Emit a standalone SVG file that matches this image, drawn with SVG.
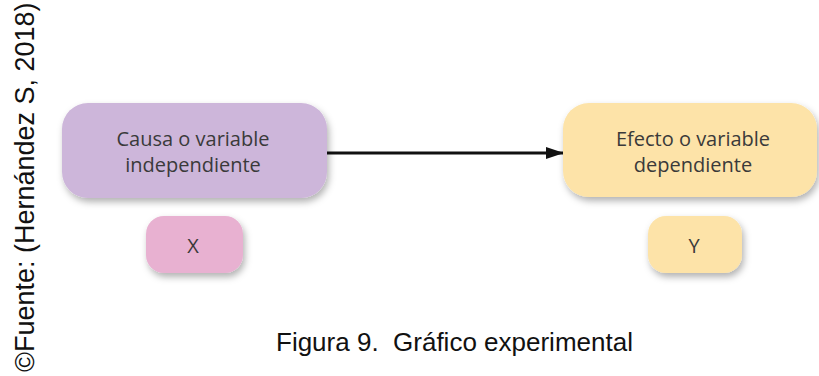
<svg xmlns="http://www.w3.org/2000/svg" width="819" height="376" viewBox="0 0 819 376">
<style>
.lbl{font-family:"Open Sans","DejaVu Sans",sans-serif;font-size:20px;fill:#3a3a3a;text-anchor:middle}
.cap{font-family:"Liberation Sans",Arial,sans-serif;font-size:26px;fill:#111}
</style>
<defs>
<filter id="sh" x="-20%" y="-20%" width="150%" height="160%">
<feDropShadow dx="2" dy="4" stdDeviation="3.5" flood-color="#000" flood-opacity="0.3"/>
</filter>
<marker id="ah" markerWidth="18" markerHeight="12" refX="17" refY="6" orient="auto" markerUnits="userSpaceOnUse">
<path d="M0,0 L18,6 L0,12 Z" fill="#111"/>
</marker>
</defs>
<rect width="819" height="376" fill="#fff"/>
<g id="connectors">
<line x1="327" y1="153" x2="563" y2="153" stroke="#111" stroke-width="3" marker-end="url(#ah)"/>
</g>
<g id="causa">
<rect x="62" y="103" width="265" height="95" rx="26" fill="#cdb6da" filter="url(#sh)"/>
<text class="lbl" x="193" y="146">Causa o variable</text>
<text class="lbl" x="193" y="172">independiente</text>
</g>
<g id="x">
<rect x="146" y="216" width="97" height="57" rx="18" fill="#e8b1d1" filter="url(#sh)"/>
<text class="lbl" x="193" y="253">X</text>
</g>
<g id="efecto">
<rect x="563" y="103" width="254" height="94" rx="26" fill="#fde3a8" filter="url(#sh)"/>
<text class="lbl" x="693" y="146">Efecto o variable</text>
<text class="lbl" x="693" y="172">dependiente</text>
</g>
<g id="y">
<rect x="648" y="216" width="94" height="57" rx="18" fill="#fde3a8" filter="url(#sh)"/>
<text class="lbl" x="694" y="253">Y</text>
</g>
<text class="cap" x="276" y="351" xml:space="preserve">Figura 9.  Gráfico experimental</text>
<text class="cap" style="font-size:27px" transform="translate(34,372) rotate(-90)">©Fuente: (Hernández S, 2018)</text>
</svg>
